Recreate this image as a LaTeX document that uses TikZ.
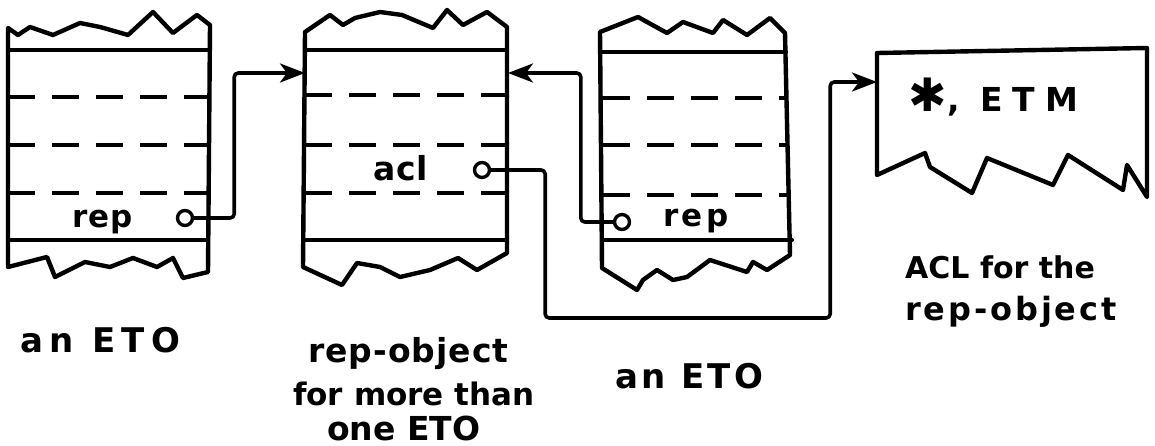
\documentclass[tikz,border=0pt]{standalone}
\usepackage{fontspec}
\newfontfamily\hand{DejaVu Sans}
\usetikzlibrary{arrows.meta}
\newcommand\handsize[2]{\hand\bfseries\fontsize{#1}{40}\selectfont\addfontfeature{LetterSpace=#2}}
\begin{document}
\begin{tikzpicture}[x=1pt,y=-1pt,line join=round,line cap=round,
  outline/.style={line width=4.4pt},
  rule/.style={line width=4pt},
  dashrule/.style={line width=4.2pt,line cap=butt,dash pattern=on 27pt off 17pt},
  port/.style={circle,draw,line width=3.4pt,minimum size=15pt,inner sep=0pt,fill=white},
  link/.style={line width=3.6pt,rounded corners=4pt,-{Stealth[length=25pt,width=19pt,inset=7pt]}},
  lbl/.style={anchor=base west,inner sep=0pt},
]
\useasboundingbox (0,0) rectangle (1155,446);

% ---------- left ETO ----------
\draw[outline] (8,28) -- (18,35) -- (30,27) -- (53,35) -- (80,23) -- (100,27) -- (128,35)
  -- (153,12) -- (173,33) -- (197,15) -- (210,25) -- (208,272) -- (183,278) -- (173,258)
  -- (157,267) -- (133,258) -- (110,267) -- (85,262) -- (55,277) -- (47,257) -- (8,267) -- cycle;
\draw[rule] (8,50) -- (210,50);
\draw[dashrule] (8,97) -- (216,97);
\draw[dashrule] (8,145) -- (216,145);
\draw[dashrule] (8,193) -- (216,193);
\draw[rule] (8,240) -- (208,240);
\node[lbl,font=\handsize{31}{4}] (rep1) at (72,227) {rep};
\node[port] (p1) at (185,218) {};

% ---------- shared rep-object ----------
\draw[outline] (305,32) -- (330,15) -- (343,25) -- (355,18) -- (380,12) -- (402,15) -- (433,28)
  -- (447,10) -- (463,25) -- (487,12) -- (507,27) -- (507,253) -- (477,270) -- (458,258)
  -- (430,270) -- (400,277) -- (380,267) -- (357,263) -- (342,285) -- (303,267) -- cycle;
\draw[rule] (305,50) -- (507,50);
\draw[dashrule] (305,95) -- (510,95);
\draw[dashrule] (305,145) -- (510,145);
\draw[dashrule] (305,193) -- (510,193);
\draw[rule] (305,240) -- (507,240);
\node[lbl,font=\handsize{33}{2}] (acl) at (373,181) {acl};
\node[port] (p2) at (482,170) {};
\coordinate (b2w) at (305,73);
\coordinate (b2e) at (508,73);

% ---------- right ETO ----------
\draw[outline] (600,32) -- (638,17) -- (667,33) -- (683,22) -- (713,33) -- (723,20) -- (747,35)
  -- (770,18) -- (785,33) -- (790,255) -- (767,270) -- (753,262) -- (747,272) -- (710,260)
  -- (687,277) -- (673,280) -- (657,270) -- (643,280) -- (637,290) -- (602,268) -- cycle;
\draw[rule] (602,52) -- (786,52);
\draw[dashrule] (603,98) -- (788,98);
\draw[dashrule] (603,145) -- (788,145);
\draw[dashrule] (603,195) -- (788,195);
\draw[rule] (603,240) -- (792,240);
\node[lbl,font=\handsize{31}{11}] (rep3) at (663,226) {rep};
\node[port] (p3) at (622,222) {};

% ---------- ACL page ----------
\draw[outline] (877,53) -- (1147,48) -- (1147,197) -- (1127,165) -- (1123,190) -- (1068,155)
  -- (1053,185) -- (987,158) -- (972,193) -- (930,167) -- (925,153) -- (877,175) -- cycle;
\node[lbl,font=\handsize{33}{0}] (etm) at (908,112)
  {{\fontsize{46}{46}\selectfont ✱}\hspace{1pt},\hspace{20pt}{\addfontfeature{LetterSpace=30}ETM}};
\coordinate (b4w) at (877,82);

% ---------- pointers ----------
\draw[link] (p1.east) -- ++(40,0) |- (b2w);
\draw[link] (p3.west) -- ++(-32,0) |- (b2e);
\draw[link] (p2.east) -- ++(54,0) -- ++(0,148) -- ++(285,0) |- (b4w);

% ---------- captions ----------
\node[lbl,font=\handsize{34}{19}] (cap1) at (20,352) {an ETO};
\node[lbl,font=\handsize{33}{3}] (cap2a) at (308,362) {rep-object};
\node[lbl,font=\handsize{31}{0}] (cap2b) at (293,405) {for more than};
\node[lbl,font=\handsize{33}{0}] (cap2c) at (327,440) {one ETO};
\node[lbl,font=\handsize{34}{10}] (cap3) at (615,388) {an ETO};
\node[lbl,font=\handsize{30}{0}] (cap4a) at (905,278) {ACL for the};
\node[lbl,font=\handsize{32}{9}] (cap4b) at (905,320) {rep-object};
\end{tikzpicture}
\end{document}
